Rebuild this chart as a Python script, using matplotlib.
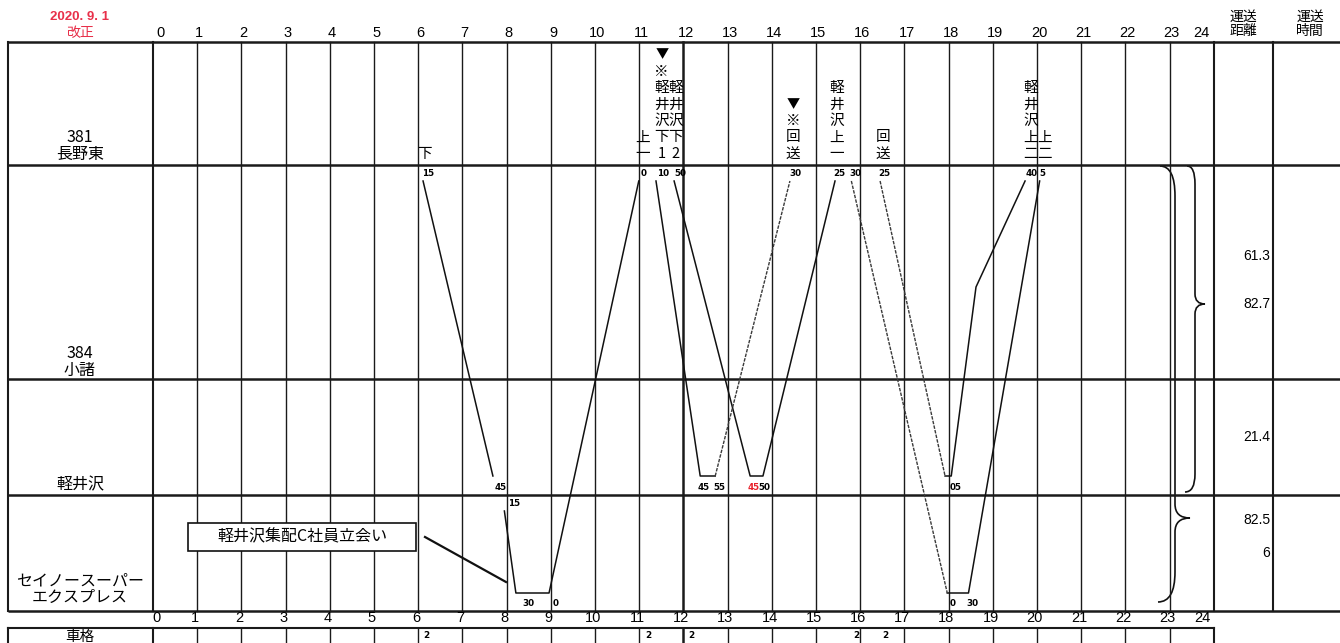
import matplotlib
matplotlib.use('Agg')
import matplotlib.pyplot as plt
from matplotlib.patches import Rectangle, PathPatch
from matplotlib.path import Path

plt.rcParams['font.family'] = ['Noto Sans CJK JP', 'DejaVu Sans']

# ---------------- data ----------------
hours = list(range(25))
top_hour_labels = [str(h) for h in hours]

station_names = ['381\n長野東', '384\n小諸', '軽井沢', 'セイノースーパー\nエクスプレス']

# train runs: times (hours) and stops
run_down_t = [6.11, 7.69]
run_down_s = ['長野東', '軽井沢']
run_up1_t = [7.95, 8.21, 8.96, 10.99]
run_up1_s = ['セイノー入', 'セイノー', 'セイノー', '長野東']
run_dn1_t = [11.38, 12.38, 12.72]
run_dn1_s = ['長野東', '軽井沢', '軽井沢']
run_kaiso1_t = [12.72, 14.41]
run_kaiso1_s = ['軽井沢', '長野東']
run_dn2_t = [11.79, 13.51, 13.80, 15.43]
run_dn2_s = ['長野東', '軽井沢', '軽井沢', '長野東']
run_dash30_t = [15.80, 17.97]
run_dash30_s = ['長野東', 'セイノー']
run_up2b_t = [17.97, 18.45, 20.06]
run_up2b_s = ['セイノー', 'セイノー', '長野東']
run_kaiso2_t = [16.45, 17.92]
run_kaiso2_s = ['長野東', '軽井沢']
run_up2a_t = [17.92, 18.06, 18.62, 19.73]
run_up2a_s = ['軽井沢', '軽井沢', '中間', '長野東']

# header train names (vertical) and their hour positions
train_names = ['下', '上一', '▼※軽井沢下1', '軽井沢下2', '▼※回送', '軽井沢上一', '回送', '軽井沢上二', '上二']
train_name_hours = [6.15, 11.07, 11.51, 11.83, 14.48, 15.47, 16.51, 19.85, 20.17]

# minute labels
nag_min_hours = [6.08, 11.03, 11.40, 11.79, 14.39, 15.38, 15.76, 16.40, 19.73, 20.06]
nag_min_text = ['15', '0', '10', '50', '30', '25', '30', '25', '40', '5']
kar_min_hours = [7.72, 12.33, 12.67, 13.46, 13.69, 18.03]
kar_min_text = ['45', '45', '55', '45', '50', '05']
kar_min_color = ['black', 'black', 'black', '#e8202a', 'black', 'black']
sei_top_hours = [8.03]
sei_top_text = ['15']
sei_bot_hours = [8.35, 9.05, 18.03, 18.41]
sei_bot_text = ['30', '0', '0', '30']

# distances column
dist_text = ['61.3', '82.7', '21.4', '82.5', '6']

# 車格 row
shakaku_hours = [6.11, 11.13, 12.11, 15.84, 16.49]
shakaku_text = ['2', '2', '2', '2', '2']

callout_text = '軽井沢集配C社員立会い'

# ---------------- layout ----------------
W, H = 1340, 643
X0, PXH = 153.0, 44.2


def hx(px):
    return (px - X0) / PXH


track_y = {'長野東': 181, '中間': 287, '軽井沢': 476, 'セイノー入': 511, 'セイノー': 593}

fig = plt.figure(figsize=(13.4, 6.43), dpi=100)
ax = fig.add_axes([0, 0, 1, 1])
ax.set_xlim(hx(0), hx(W))
ax.set_ylim(H, 0)
ax.axis('off')

LC = '#1a1a1a'
# horizontal rules
for y in [42, 165, 379, 495, 611]:
    ax.plot([hx(8), hx(W + 5)], [y, y], color=LC, lw=1.8, solid_capstyle='butt')
ax.plot([hx(8), hx(1214)], [628, 628], color=LC, lw=1.5)
# left border and column separators
ax.plot([hx(8), hx(8)], [42, 611], color=LC, lw=1.5)
ax.plot([hx(8), hx(8)], [628, 650], color=LC, lw=1.5)
ax.plot([hx(1273), hx(1273)], [42, 611], color=LC, lw=1.5)
# hour lines
for h in hours:
    lw = 1.0
    if h in (0, 24):
        lw = 1.5
    if h == 12:
        lw = 1.8
    ax.plot([h, h], [42, 611], color=LC, lw=lw)
    ax.plot([h, h], [628, 650], color=LC, lw=lw)

# hour labels top and bottom
for h, t in zip(hours, top_hour_labels):
    xt = h + 0.05
    if h == 0:
        xt = 0.16
    if h == 24:
        xt = 23.72
    ax.text(xt, 33, t, ha='center', va='center', fontsize=10.5, family='Liberation Sans')
    xb = h - 0.05
    if h == 0:
        xb = 0.08
    if h == 24:
        xb = 23.74
    ax.text(xb, 618, t, ha='center', va='center', fontsize=10.5, family='Liberation Sans')

# date
ax.text(hx(80), 17, '2020. 9. 1', ha='center', va='center', fontsize=9.5, color='#e8304a',
        family='Liberation Sans', fontweight='bold')
ax.text(hx(80), 33, '改正', ha='center', va='center', fontsize=10, color='#e8304a')

# right headers
ax.text(hx(1243), 24, '運送\n距離', ha='center', va='center', fontsize=10, linespacing=1.0)
ax.text(hx(1310), 24, '運送\n時間', ha='center', va='center', fontsize=10, linespacing=1.0)

# station labels
station_label_y = [146, 362, 485, 589]
for name, y in zip(station_names, station_label_y):
    ax.text(hx(80), y, name, ha='center', va='center', fontsize=11.5, linespacing=1.0)

ax.text(hx(80), 637, '車格', ha='center', va='center', fontsize=10.5)

# header train names, written vertically, bottom aligned
for name, h in zip(train_names, train_name_hours):
    n = len(name)
    for i, ch in enumerate(name):
        y = 154 - 16.5 * (n - 1 - i)
        ax.text(h, y, ch, ha='center', va='center', fontsize=10.5 if ch != '▼' else 9.5)

# train lines
solid_runs = [(run_down_t, run_down_s), (run_up1_t, run_up1_s), (run_dn1_t, run_dn1_s),
              (run_dn2_t, run_dn2_s), (run_up2b_t, run_up2b_s), (run_up2a_t, run_up2a_s)]
dashed_runs = [(run_kaiso1_t, run_kaiso1_s), (run_dash30_t, run_dash30_s), (run_kaiso2_t, run_kaiso2_s)]
for t, s in solid_runs:
    ax.plot(t, [track_y[k] for k in s], color='#111111', lw=1.1)
for t, s in dashed_runs:
    ax.plot(t, [track_y[k] for k in s], color='#3a3a3a', lw=1.0, linestyle=(0, (2.5, 0.9)))

# minute labels
mfont = dict(fontsize=6.3, family='DejaVu Sans', fontweight='bold', va='center', ha='left')
for h, t in zip(nag_min_hours, nag_min_text):
    ax.text(h, 173, t, **mfont)
for h, t, c in zip(kar_min_hours, kar_min_text, kar_min_color):
    ax.text(h, 487, t, color=c, **mfont)
for h, t in zip(sei_top_hours, sei_top_text):
    ax.text(h, 503, t, **mfont)
for h, t in zip(sei_bot_hours, sei_bot_text):
    ax.text(h, 603, t, **mfont)
for h, t in zip(shakaku_hours, shakaku_text):
    ax.text(h, 636, t, **mfont)

# distances
dist_y = [256, 304, 437, 520, 553]
for t, y in zip(dist_text, dist_y):
    ax.text(hx(1270), y, t, ha='right', va='center', fontsize=10, family='Liberation Sans')


# braces
def brace(x_top, x_spine, x_tip, x_bot, y_top, y_tip, y_bot, r1, r2):
    verts = [
        (hx(x_top), y_top),
        (hx(x_spine), y_top), (hx(x_spine), y_top + r1),
        (hx(x_spine), y_tip - r2),
        (hx(x_spine), y_tip), (hx(x_tip), y_tip),
        (hx(x_spine), y_tip), (hx(x_spine), y_tip + r2),
        (hx(x_spine), y_bot - r1),
        (hx(x_spine), y_bot), (hx(x_bot), y_bot),
    ]
    codes = [Path.MOVETO, Path.CURVE3, Path.CURVE3, Path.LINETO,
             Path.CURVE3, Path.CURVE3, Path.CURVE3, Path.CURVE3,
             Path.LINETO, Path.CURVE3, Path.CURVE3]
    ax.add_patch(PathPatch(Path(verts, codes), fill=False, lw=1.2, edgecolor='#111111'))


brace(1187, 1195, 1205, 1185, 166, 304, 492, 18, 10)
brace(1160, 1175, 1190, 1158, 166, 518, 602, 30, 14)

# callout
ax.add_patch(Rectangle((hx(188), 523), hx(416) - hx(188), 28, facecolor='white',
                       edgecolor='#111111', lw=1.2, zorder=3))
ax.text(hx(302), 537, callout_text, ha='center', va='center', fontsize=11.5, zorder=4)
ax.plot([hx(425), hx(506)], [537, 582], color='#111111', lw=1.6)

fig.savefig('out.png', dpi=100)
